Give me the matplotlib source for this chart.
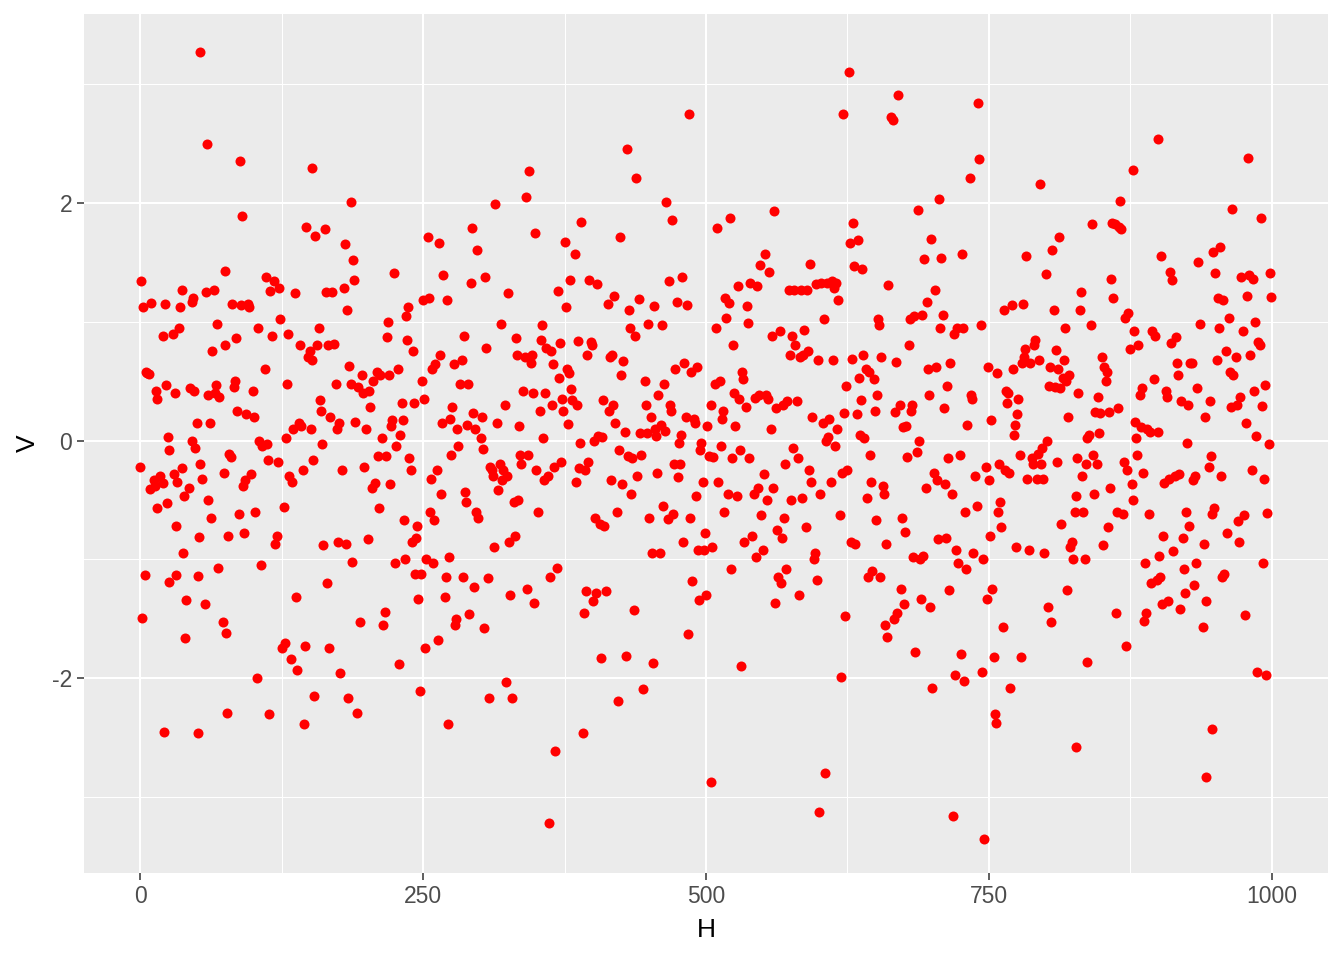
import matplotlib
matplotlib.use("Agg")
import matplotlib.pyplot as plt

plt.rcParams['font.family'] = ['Liberation Sans', 'DejaVu Sans']

seg_0 = [(1,1.34),(0,-0.22),(2,-1.49),(4,-1.13),(3,1.12),(5,0.58),(6,0.57),(8,0.56),(9,-0.41),(10,1.16),(12,-0.33),(13,-0.38),(14,0.42),(15,0.35),(15,-0.57),(18,-0.3),(20,-0.36),(20,0.88),(21,-2.45),(22,1.15),(23,0.47),(24,-0.53),(25,0.03),(26,-0.08),(26,-1.19),(29,0.9),(30,-0.28),(31,0.4),(32,-0.72),(32,-1.13),(33,-0.35),(34,0.95),(35,1.12),(37,-0.23),(37,1.27),(38,-0.95),(39,-0.47),(40,-1.66),(41,-1.34),(43,-0.4),(44,0.44),(46,0.0),(46,1.17),(47,1.2),(48,0.42),(49,-0.06),(50,0.15),(51,-2.46),(51,-1.14),(52,-0.81),(53,-0.2),(53,3.27),(55,-0.32),(57,-1.38),(58,1.25),(59,2.5),(60,0.38),(60,-0.5),(62,0.15),(63,-0.65),(64,0.75),(65,1.27),(66,0.4),(67,0.47),(68,0.98),(69,-1.07),(70,0.37),(73,-1.53),(74,-0.27),(75,1.43),(75,0.8),(76,-1.62),(77,-2.29),(78,-0.8),(79,-0.11),(80,-0.14),(81,1.15),(83,0.45),(84,0.5),(85,0.86),(86,0.25),(87,-0.62),(88,2.35),(89,1.14),(90,1.89),(91,-0.38),(92,-0.78),(93,-0.33),(94,0.22),(95,1.15),(96,1.12),(98,-0.28)]
seg_100 = [(102,-0.6),(100,0.42),(101,0.2),(103,-2.0),(104,0.95),(105,0.0),(107,-1.05),(108,-0.05),(110,0.6),(111,1.38),(112,-0.03),(113,-0.16),(114,-2.3),(115,1.26),(117,0.88),(118,1.34),(119,-0.87),(121,-0.8),(122,-0.18),(123,1.28),(124,1.02),(125,-1.75),(127,-0.56),(128,-1.7),(129,0.02),(130,0.48),(131,0.9),(132,-0.3),(133,-1.84),(134,-0.35),(135,0.1),(137,1.24),(138,-1.32),(139,-1.93),(140,0.15),(141,0.8),(142,0.12),(144,-0.25),(145,-2.39),(146,-1.73),(147,1.8),(148,0.7),(150,0.75),(151,0.1),(152,0.68),(153,-0.16),(154,-2.15),(155,1.72),(156,0.8),(152,2.29),(158,0.95),(159,0.34),(160,0.25),(161,-0.03),(162,-0.88),(163,1.78),(164,1.25),(165,-1.2),(166,0.8),(167,-1.75),(168,0.2),(170,1.25),(171,0.81),(173,0.48),(174,0.1),(175,-0.85),(176,0.15),(177,-1.96),(178,-0.25),(180,1.28),(181,1.65),(182,-0.87),(183,1.1),(184,-2.17),(185,0.63),(186,0.48),(187,-1.02),(188,1.52),(189,1.35),(190,0.16),(186,2.01),(192,-2.29),(193,0.45),(194,-1.53),(196,0.55),(197,0.4)]
seg_200 = [(198,-0.22),(200,0.1),(201,-0.83),(202,0.42),(203,0.28),(205,-0.4),(206,0.5),(208,-0.36),(209,0.58),(210,-0.13),(211,-0.57),(212,0.55),(214,0.02),(215,-1.55),(216,-1.44),(217,-0.13),(218,0.87),(219,1.0),(220,0.55),(221,-0.37),(222,0.12),(223,0.17),(224,1.41),(225,-1.03),(226,-0.05),(228,0.6),(229,-1.88),(230,0.05),(231,0.32),(232,0.17),(233,-0.67),(234,-1.0),(235,1.05),(236,0.85),(237,1.12),(238,-0.15),(239,-0.25),(240,-0.85),(241,0.75),(242,0.32),(243,-1.12),(244,-0.82),(245,-0.72),(246,-1.33),(247,-2.11),(248,-1.12),(249,0.5),(250,1.18),(251,0.35),(252,-1.75),(253,-1.0),(254,1.71),(255,1.2),(256,-0.6),(257,-0.32),(258,0.6),(259,-1.03),(260,-0.67),(261,0.64),(262,-0.25),(263,-1.68),(264,1.66),(265,0.72),(266,-0.45),(267,0.15),(268,1.39),(269,-1.32),(270,-1.15),(271,1.18),(272,-2.39),(273,-0.98),(274,0.18),(275,-0.12),(276,0.28),(277,0.64),(278,-1.55),(279,-1.5),(280,0.1),(281,-0.05),(283,0.48),(284,0.68),(285,-1.15),(286,0.88),(287,-0.43),(288,-0.52),(289,0.13),(290,0.48),(291,-1.46),(292,1.33),(293,1.79),(294,0.23),(295,-1.23),(296,0.1),(297,-0.6),(298,1.6),(299,-0.65)]
seg_300 = [(301,0.02),(302,0.2),(303,-0.07),(304,-1.58),(305,1.38),(306,0.78),(307,-1.16),(308,-2.17),(309,-0.22),(311,-0.25),(312,-0.3),(313,-0.9),(314,1.99),(315,0.15),(316,-0.42),(318,-0.2),(319,0.98),(320,-0.33),(321,-0.25),(322,0.3),(323,-2.03),(324,-0.3),(325,1.24),(326,-0.85),(327,-1.3),(329,-2.17),(330,-0.52),(331,-0.8),(332,0.86),(333,0.72),(334,-0.5),(335,0.12),(336,-0.12),(337,-0.2),(338,0.42),(340,0.7),(341,2.05),(342,-1.25),(343,-0.12),(344,2.27),(345,0.65),(346,0.72),(347,0.4),(348,-1.37),(349,1.75),(350,-0.25),(352,-0.6),(353,0.25),(354,0.85),(355,0.97),(356,0.02),(357,-0.33),(358,0.4),(359,0.78),(360,-0.3),(361,-3.22),(362,-1.15),(363,0.75),(364,0.3),(365,0.64),(366,-0.22),(367,-2.61),(368,-1.07),(369,1.26),(370,0.53),(371,0.82),(372,-0.18),(373,0.35),(374,0.25),(375,1.67),(376,1.12),(377,0.6),(378,0.14),(379,0.57),(380,1.35),(381,0.43),(382,0.34),(384,1.57),(385,-0.35),(386,0.3),(387,0.84),(388,-0.23),(389,-0.02),(390,1.84),(391,-2.46),(392,-1.45),(393,-0.25),(394,-1.27),(395,0.72),(396,-0.18),(397,1.35),(398,0.83),(399,0.8)]
seg_400 = [(400,-1.35),(401,0.0),(402,-0.65),(403,-1.28),(404,1.32),(405,0.04),(406,-0.7),(407,-1.83),(408,0.03),(409,0.34),(410,-0.72),(412,-1.27),(413,1.15),(414,0.25),(415,0.7),(416,-0.33),(417,0.72),(418,0.3),(419,1.22),(420,0.15),(421,-0.6),(422,-2.19),(423,-0.08),(424,1.71),(425,0.55),(426,-0.37),(427,0.67),(428,0.07),(429,-1.81),(430,2.45),(431,-0.13),(432,1.1),(433,0.95),(434,-0.45),(435,-0.15),(436,-1.43),(437,0.88),(438,2.21),(439,-0.3),(441,1.19),(442,0.06),(443,-0.12),(444,-2.09),(446,0.5),(447,0.3),(448,0.06),(449,0.98),(450,-0.65),(451,0.2),(452,-0.95),(453,-1.87),(454,1.13),(455,0.1),(456,0.04),(457,-0.27),(458,0.38),(459,-0.95),(460,0.13),(461,0.97),(462,-0.55),(463,0.48),(464,0.08),(465,2.01),(466,-0.66),(467,1.34),(468,0.3),(469,0.25),(470,1.86),(471,-0.62),(472,-0.2),(473,0.6),(474,1.17),(475,-0.31),(476,-0.02),(477,-0.2),(478,0.05),(479,1.38),(480,-0.85),(481,0.65),(482,0.2),(483,1.14),(484,-1.63),(485,2.75),(486,-0.65),(487,0.58),(488,-1.18),(489,0.18),(490,0.15),(491,-0.47),(492,0.62),(493,-0.92),(494,-1.34),(495,-0.08),(496,-0.02),(497,-0.35),(498,-0.92),(499,-0.78)]
seg_500 = [(500,-1.3),(501,0.12),(504,-2.87),(503,-0.13),(504,0.3),(505,-0.9),(506,-0.14),(508,0.48),(509,0.95),(510,1.79),(511,-0.35),(512,0.5),(513,-0.05),(514,0.18),(515,0.25),(516,-0.6),(517,1.2),(518,1.03),(519,-0.45),(520,1.16),(521,1.87),(522,-1.08),(523,-0.15),(524,0.8),(525,0.4),(526,0.12),(527,-0.47),(528,1.3),(529,0.35),(530,-0.08),(531,-1.9),(532,0.58),(533,0.52),(534,-0.85),(535,0.28),(536,1.13),(537,0.99),(538,-0.15),(539,1.33),(541,-0.8),(542,-0.45),(543,0.36),(544,-0.98),(545,1.3),(546,-0.4),(547,0.38),(548,1.48),(549,-0.63),(550,-0.92),(551,-0.28),(552,1.57),(553,0.38),(554,-0.5),(555,0.35),(556,1.42),(557,0.1),(558,0.88),(559,-0.4),(560,1.93),(561,-1.37),(562,0.27),(563,-0.75),(564,-1.15),(565,0.92),(566,-1.2),(567,-0.82),(568,0.3),(569,-0.65),(570,-0.2),(571,-1.08),(572,0.33),(573,1.27),(574,0.72),(575,-0.5),(576,0.88),(577,-0.06),(578,1.27),(579,0.8),(580,0.33),(581,-0.15),(582,-1.3),(583,0.7),(584,1.27),(585,-0.48),(586,0.72),(587,0.93),(588,-0.73),(589,1.27),(590,0.75),(591,-0.25),(592,1.49),(593,-0.35),(594,0.2),(595,-1.0),(596,-0.95),(597,1.32),(598,-1.17),(599,0.68)]
seg_600 = [(600,-3.13),(601,-0.45),(602,1.33),(603,0.15),(604,1.02),(605,-2.8),(606,0.0),(607,1.33),(608,0.03),(609,0.18),(610,-0.35),(611,1.34),(612,0.68),(613,1.28),(614,-0.05),(615,1.33),(616,0.1),(617,1.18),(618,-0.63),(619,-1.99),(620,-0.27),(621,2.75),(622,0.23),(623,-1.48),(624,0.46),(625,-0.25),(626,3.1),(627,1.66),(628,-0.85),(629,0.69),(630,1.83),(631,1.47),(632,-0.87),(633,0.22),(634,1.69),(635,0.53),(636,0.05),(637,0.34),(638,1.44),(639,0.72),(640,0.02),(641,0.6),(642,-0.48),(643,-1.15),(644,0.58),(645,-0.12),(646,-0.35),(647,-1.1),(648,0.52),(649,0.25),(650,-0.67),(651,0.38),(652,1.02),(653,0.97),(654,-1.15),(655,0.7),(656,-0.38),(657,-0.45),(658,-1.55),(659,-0.87),(660,-1.65),(661,1.31),(663,2.72),(665,2.7),(666,-1.5),(667,0.24),(668,0.66),(669,-1.45),(670,2.91),(671,0.3),(672,-1.25),(673,-0.65),(674,0.11),(675,-1.38),(676,-0.77),(677,0.12),(678,-0.14),(679,0.8),(680,1.02),(681,0.25),(682,0.3),(683,-0.98),(684,1.05),(685,-1.78),(686,-0.1),(687,1.94),(688,0.0),(689,-1.0),(690,-1.33),(691,1.06),(692,-0.97),(693,1.53),(694,-0.4),(695,1.17),(696,0.6),(697,0.38),(698,-1.4),(699,1.7)]
seg_700 = [(700,-2.08),(701,-0.27),(702,1.27),(703,0.62),(704,-0.33),(705,-0.83),(706,2.03),(707,0.95),(708,1.54),(709,1.06),(710,0.27),(711,-0.37),(712,-0.82),(713,0.46),(714,-0.15),(715,-1.26),(716,0.65),(717,-0.45),(718,-3.16),(719,0.9),(720,-1.97),(721,-0.92),(722,0.95),(723,-1.03),(724,-0.12),(725,-1.8),(726,1.57),(727,0.95),(728,-2.02),(729,-0.6),(730,-1.08),(731,0.13),(733,2.21),(734,0.38),(735,0.35),(736,-0.95),(738,-0.3),(739,-0.55),(740,2.84),(741,2.37),(743,0.97),(744,-1.95),(745,-1.0),(746,-3.35),(747,-0.22),(748,-1.33),(749,0.62),(750,-0.33),(751,-0.8),(752,0.17),(753,-1.25),(754,-1.82),(755,-2.3),(756,-2.38),(757,0.57),(758,-0.6),(759,-0.2),(760,-0.52),(761,-0.73),(762,-1.57),(763,1.1),(764,-0.25),(765,0.42),(766,0.32),(767,0.4),(768,-0.27),(769,-2.08),(770,1.14),(771,0.6),(772,0.05),(773,0.13),(774,-0.9),(775,0.22),(776,0.35),(777,-0.12),(778,-1.82),(779,0.65),(780,1.15),(781,0.7),(782,0.77),(783,1.55),(784,-0.32),(785,-0.92),(786,0.65),(788,-0.15),(789,-0.2),(790,0.8),(791,0.85),(792,-0.32),(793,-0.11),(794,0.68),(795,2.16),(796,-0.2),(797,-0.06),(798,-0.32),(799,-0.95)]
seg_800 = [(800,1.4),(801,0.0),(802,-1.4),(803,0.46),(804,0.62),(805,-1.53),(806,1.6),(807,1.1),(808,0.45),(809,0.76),(810,-0.18),(811,0.6),(812,1.71),(813,0.44),(814,-0.7),(815,0.53),(816,0.68),(817,0.95),(818,0.5),(819,-1.26),(820,0.2),(821,0.55),(822,-0.9),(823,-0.85),(824,-1.0),(827,-2.58),(826,-0.6),(827,-0.47),(828,-0.15),(829,0.4),(830,1.1),(831,1.25),(832,-0.3),(833,-0.6),(837,-1.86),(835,-1.0),(836,-0.2),(837,0.02),(838,0.05),(840,0.97),(841,1.82),(842,-0.12),(843,-0.45),(844,0.24),(845,-0.2),(846,0.37),(847,0.06),(848,0.23),(850,0.7),(851,-0.88),(852,0.62),(853,0.5),(854,0.58),(855,-0.73),(856,0.24),(857,-0.4),(858,1.36),(859,1.83),(860,1.2),(861,1.82),(862,-1.45),(863,-0.6),(864,0.27),(865,1.8),(866,2.02),(867,1.78),(868,-0.62),(869,-0.18),(870,1.03),(871,-1.73),(872,-0.25),(873,1.07),(877,2.28),(875,0.77),(876,-0.37),(877,-0.5),(878,0.92),(879,0.16),(880,0.02),(881,-0.12),(882,0.8),(883,0.38),(884,0.11),(885,0.44),(886,-0.27),(887,-1.52),(888,-1.03),(889,-1.45),(890,0.1),(891,-0.62),(892,0.07),(893,-1.2),(894,0.92),(899,2.54),(896,0.52),(897,0.88),(898,-1.17),(899,0.07)]
seg_900 = [(900,-0.97),(901,-1.15),(902,1.55),(903,-1.38),(904,-0.8),(905,-0.36),(906,0.42),(907,0.37),(908,-1.35),(909,-0.32),(910,1.42),(911,0.82),(912,1.35),(913,-0.93),(914,-0.3),(915,0.87),(916,0.65),(917,0.55),(918,-0.28),(919,-1.42),(920,0.33),(921,-0.82),(922,-1.08),(923,-1.28),(924,-0.6),(925,-0.02),(926,0.3),(927,-0.72),(928,0.65),(929,0.65),(930,-0.33),(931,-1.22),(932,-0.3),(933,-1.03),(934,0.44),(935,1.5),(936,0.98),(942,-2.83),(939,-1.57),(940,-0.87),(941,0.2),(942,-1.35),(947,-2.43),(944,-0.22),(945,0.33),(946,-0.13),(947,-0.62),(948,1.59),(949,-0.57),(950,1.41),(951,0.68),(952,1.2),(953,0.95),(954,1.63),(955,-0.3),(956,-1.15),(957,1.18),(958,-1.12),(959,0.75),(960,-0.78),(962,1.03),(963,0.58),(964,0.28),(965,1.95),(966,0.55),(968,0.7),(969,0.3),(970,-0.68),(971,-0.85),(972,0.37),(973,1.38),(974,0.92),(975,-0.63),(976,-1.47),(977,0.15),(978,1.22),(979,2.38),(980,1.39),(981,0.72),(982,-0.25),(983,1.36),(984,0.42),(985,1.0),(986,0.04),(987,-1.95),(988,0.83),(989,0.8),(990,1.87),(991,0.29),(992,-1.03),(993,-0.32),(994,0.47),(995,-1.97),(996,-0.61),(997,-0.03),(998,1.41),(999,1.21)]

segments = [seg_0, seg_100, seg_200, seg_300, seg_400, seg_500, seg_600, seg_700, seg_800, seg_900]
H = [p[0] for s in segments for p in s]
V = [p[1] for s in segments for p in s]

x_major = [0, 250, 500, 750, 1000]
x_minor = [125, 375, 625, 875]
y_major = [-2, 0, 2]
y_minor = [-3, -1, 1, 3]

fig = plt.figure(figsize=(13.44, 9.6), dpi=100)
ax = fig.add_axes([84/1344, 1-873/960, (1328-84)/1344, (873-14)/960])
ax.set_facecolor('#EBEBEB')
for s in ax.spines.values():
    s.set_visible(False)
ax.set_xlim(-49.5, 1049.5)
ax.set_ylim(-3.64, 3.59)
ax.set_xticks(x_major)
ax.set_yticks(y_major)
ax.set_yticklabels(['-2', '0', '2'])
ax.set_xticks(x_minor, minor=True)
ax.set_yticks(y_minor, minor=True)
ax.grid(True, which='major', color='white', lw=1.5)
ax.grid(True, which='minor', color='white', lw=0.75)
ax.set_axisbelow(True)
ax.tick_params(which='minor', length=0)
ax.tick_params(which='major', length=5, width=1.1, color='#333333',
               labelcolor='#4D4D4D', labelsize=16.5, pad=3.5)
ax.scatter(H, V, s=52, c='#FF0000', linewidths=0, zorder=3)
ax.set_xlabel('H', fontsize=19, color='black')
ax.set_ylabel('V', fontsize=19, color='black')
ax.xaxis.set_label_coords(0.5, -(930-873)/859, transform=ax.transAxes)
ax.xaxis.label.set_va('center')
ax.yaxis.set_label_coords(-(84-28)/1244, 0.5, transform=ax.transAxes)
ax.yaxis.label.set_va('center')
fig.savefig('out.png', dpi=100, facecolor='white')
